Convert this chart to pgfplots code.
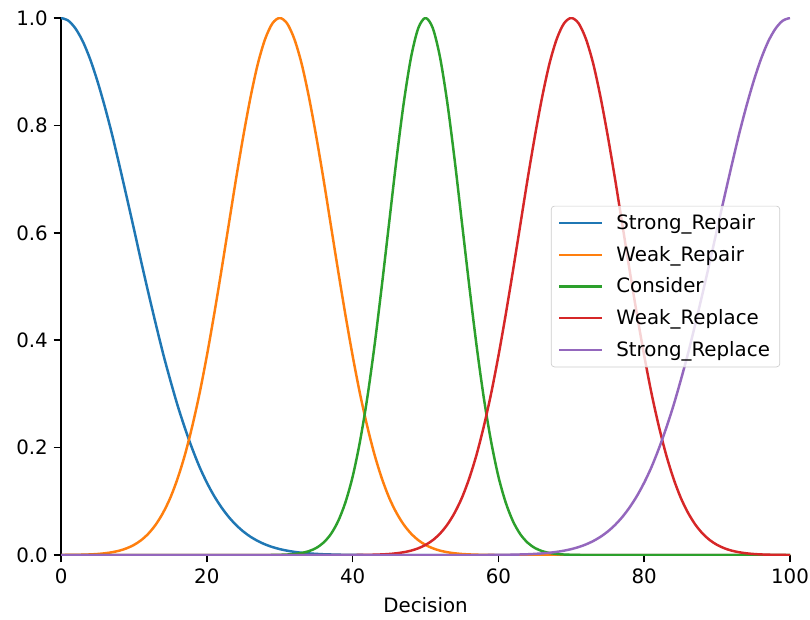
\documentclass[border=0pt]{standalone}
\usepackage{fontspec}
\setmainfont{DejaVu Sans}
\usepackage{pgfplots}
\usepackage{pgfplotstable}
\pgfplotsset{compat=1.18}

\definecolor{tabblue}{HTML}{1F77B4}
\definecolor{taborange}{HTML}{FF7F0E}
\definecolor{tabgreen}{HTML}{2CA02C}
\definecolor{tabred}{HTML}{D62728}
\definecolor{tabpurple}{HTML}{9467BD}

% membership values
\pgfplotstableread{
x   sr      wr      co      wp      sp
0   1       0.0001  0       0       0
1   0.995   0.0002  0       0       0
2   0.980   0.0004  0       0       0
3   0.956   0.0007  0       0       0
4   0.923   0.0012  0       0       0
5   0.882   0.0020  0       0       0
6   0.835   0.0033  0       0       0
7   0.783   0.0053  0       0       0
8   0.726   0.0082  0       0       0
9   0.667   0.0126  0       0       0
10  0.607   0.0189  0       0       0
11  0.546   0.0278  0       0       0
12  0.487   0.0402  0       0       0
13  0.430   0.0569  0       0       0
14  0.375   0.0789  0       0       0
15  0.325   0.107   0       0       0
16  0.278   0.143   0       0       0
17  0.236   0.187   0       0       0
18  0.198   0.240   0       0       0
19  0.164   0.301   0       0       0
20  0.135   0.371   0       0       0
21  0.110   0.448   0       0       0
22  0.0889  0.530   0       0       0
23  0.0710  0.615   0       0       0
24  0.0561  0.700   0       0       0
25  0.0439  0.780   0       0       0
26  0.0340  0.853   0       0       0
27  0.0261  0.915   0       0       0
28  0.0198  0.961   0       0       0
29  0.0149  0.990   0.0002  0       0
30  0.0111  1       0.0005  0       0
31  0.0082  0.990   0.0010  0       0
32  0.0060  0.961   0.0020  0       0
33  0.0043  0.915   0.0039  0       0
34  0.0031  0.853   0.0073  0       0
35  0.0022  0.780   0.0132  0       0
36  0.0015  0.700   0.0231  0       0
37  0.0011  0.615   0.0388  0       0
38  0.0007  0.530   0.0628  0       0
39  0.0005  0.448   0.0977  0       0
40  0.0003  0.371   0.146   0.0001  0
41  0.0002  0.301   0.211   0.0002  0
42  0.0001  0.240   0.292   0.0004  0
43  0.0001  0.187   0.390   0.0007  0
44  0       0.143   0.501   0.0012  0
45  0       0.107   0.618   0.0020  0
46  0       0.0789  0.735   0.0033  0
47  0       0.0569  0.841   0.0053  0
48  0       0.0402  0.926   0.0082  0
49  0       0.0278  0.981   0.0126  0
50  0       0.0189  1       0.0189  0
51  0       0.0126  0.981   0.0278  0
52  0       0.0082  0.926   0.0402  0
53  0       0.0053  0.841   0.0569  0
54  0       0.0033  0.735   0.0789  0
55  0       0.0020  0.618   0.107   0
56  0       0.0012  0.501   0.143   0
57  0       0.0007  0.390   0.187   0.0001
58  0       0.0004  0.292   0.240   0.0001
59  0       0.0002  0.211   0.301   0.0002
60  0       0.0001  0.146   0.371   0.0003
61  0       0       0.0977  0.448   0.0005
62  0       0       0.0628  0.530   0.0007
63  0       0       0.0388  0.615   0.0011
64  0       0       0.0231  0.700   0.0015
65  0       0       0.0132  0.780   0.0022
66  0       0       0.0073  0.853   0.0031
67  0       0       0.0039  0.915   0.0043
68  0       0       0.0020  0.961   0.0060
69  0       0       0.0010  0.990   0.0082
70  0       0       0.0005  1       0.0111
71  0       0       0.0002  0.990   0.0149
72  0       0       0       0.961   0.0198
73  0       0       0       0.915   0.0261
74  0       0       0       0.853   0.0340
75  0       0       0       0.780   0.0439
76  0       0       0       0.700   0.0561
77  0       0       0       0.615   0.0710
78  0       0       0       0.530   0.0889
79  0       0       0       0.448   0.110
80  0       0       0       0.371   0.135
81  0       0       0       0.301   0.164
82  0       0       0       0.240   0.198
83  0       0       0       0.187   0.236
84  0       0       0       0.143   0.278
85  0       0       0       0.107   0.325
86  0       0       0       0.0789  0.375
87  0       0       0       0.0569  0.430
88  0       0       0       0.0402  0.487
89  0       0       0       0.0278  0.546
90  0       0       0       0.0189  0.607
91  0       0       0       0.0126  0.667
92  0       0       0       0.0082  0.726
93  0       0       0       0.0053  0.783
94  0       0       0       0.0033  0.835
95  0       0       0       0.0020  0.882
96  0       0       0       0.0012  0.923
97  0       0       0       0.0007  0.956
98  0       0       0       0.0004  0.980
99  0       0       0       0.0002  0.995
100 0       0       0       0.0001  1
}\mf

\begin{document}
\begin{tikzpicture}
\begin{axis}[
    scale only axis,
    width=441.8pt, height=325.5pt,
    xmin=0, xmax=100, ymin=0, ymax=1,
    axis lines=left,
    axis line style={-, line width=0.9pt},
    xtick={0,20,...,100},
    ytick={0,0.2,...,1.0},
    yticklabel style={/pgf/number format/.cd, fixed, fixed zerofill, precision=1},
    /pgf/number format/assume math mode=true,
    ticklabel style={font=\fontsize{12}{14}\selectfont},
    label style={font=\fontsize{12}{14}\selectfont},
    xlabel style={yshift=-2pt},
    tick align=outside,
    major tick length=4.5pt,
    tick style={line width=0.9pt, black},
    xlabel={Decision},
    every axis plot/.append style={line width=1.5pt, line join=round, smooth},
    legend cell align=left,
    legend image code/.code={\draw[#1] (0pt,0pt) -- (26pt,0pt); \path (32pt,0pt);},
    legend style={
        at={(rel axis cs:1,0.5)}, anchor=east, xshift=-6pt,
        draw=black!20, rounded corners=2pt,
        fill=white, fill opacity=0.8, text opacity=1,
        inner xsep=4pt, inner ysep=3pt,
        row sep=4.6pt,
        font=\fontsize{12}{14}\selectfont,
    },
]
\addplot[tabblue]   table[x=x, y=sr] {\mf};
\addlegendentry{Strong\_Repair}
\addplot[taborange] table[x=x, y=wr] {\mf};
\addlegendentry{Weak\_Repair}
\addplot[tabgreen]  table[x=x, y=co] {\mf};
\addlegendentry{Consider}
\addplot[tabred]    table[x=x, y=wp] {\mf};
\addlegendentry{Weak\_Replace}
\addplot[tabpurple] table[x=x, y=sp] {\mf};
\addlegendentry{Strong\_Replace}
\coordinate (bl) at (rel axis cs:0,0);
\coordinate (tr) at (rel axis cs:1,1);
\end{axis}
\pgfresetboundingbox
\path[use as bounding box] ([shift={(-37pt,-38.8pt)}]bl) rectangle ([shift={(12.1pt,10.9pt)}]tr);
\end{tikzpicture}
\end{document}
